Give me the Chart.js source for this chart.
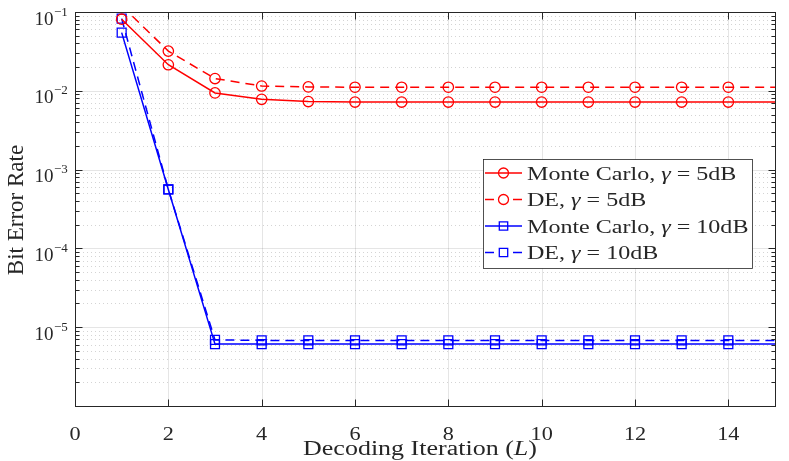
<!DOCTYPE html>
<html lang="en">
<head>
    <meta charset="UTF-8">
    <title>Bit Error Rate vs Decoding Iteration</title>
    <script src="https://cdn.jsdelivr.net/npm/chart.js"></script>
    <style>
        body {
            margin: 0;
            background: #ffffff;
        }
        .chart-box {
            width: 789px;
            height: 461px;
            position: relative;
        }
    </style>
</head>
<body>
    <div class="chart-box">
        <canvas id="ber-chart"></canvas>
    </div>

    <script>
        // Data
        const iterations = [1, 2, 3, 4, 5, 6, 7, 8, 9, 10, 11, 12, 13, 14, 15, 16];
        const mc5 = [0.081, 0.0214, 0.0094, 0.0078, 0.0073, 0.0072, 0.0072, 0.0072, 0.0072, 0.0072, 0.0072, 0.0072, 0.0072, 0.0072, 0.0072, 0.0072];
        const de5 = [0.12, 0.0319, 0.0143, 0.0115, 0.0112, 0.0111, 0.0111, 0.0111, 0.0111, 0.0111, 0.0111, 0.0111, 0.0111, 0.0111, 0.0111, 0.0111];
        const mc10 = [0.0547, 5.6e-4, 6.1e-6, 6.1e-6, 6.1e-6, 6.1e-6, 6.1e-6, 6.1e-6, 6.1e-6, 6.1e-6, 6.1e-6, 6.1e-6, 6.1e-6, 6.1e-6, 6.1e-6, 6.1e-6];
        const de10 = [0.0824, 5.6e-4, 6.9e-6, 6.8e-6, 6.8e-6, 6.8e-6, 6.8e-6, 6.8e-6, 6.8e-6, 6.8e-6, 6.8e-6, 6.8e-6, 6.8e-6, 6.8e-6, 6.8e-6, 6.8e-6];

        const xTicks = [0, 2, 4, 6, 8, 10, 12, 14];
        const yExps = [-6, -5, -4, -3, -2, -1];
        const yLabelExps = [-1, -2, -3, -4, -5];
        const legendLabels = [
            ['Monte Carlo, ', 'γ', ' = 5dB'],
            ['DE, ', 'γ', ' = 5dB'],
            ['Monte Carlo, ', 'γ', ' = 10dB'],
            ['DE, ', 'γ', ' = 10dB']
        ];

        const X_MIN = 0, X_MAX = 15, Y_MIN = 1e-6, Y_MAX = 1e-1;
        const AXIS = '#262626';
        const FONT = '"Liberation Serif", "Times New Roman", serif';
        const RED = '#ff0000', BLUE = '#0000ff';

        function pts(ys) {
            return iterations.map((x, i) => ({ x: x, y: ys[i] }));
        }

        // hide markers that fall outside the axes limits
        function markerSize(r) {
            return ctx => {
                const p = ctx.raw;
                if (!p || p.x >= X_MAX || p.y > Y_MAX) return 0;
                return r;
            };
        }

        function series(label, ys, color, dashed, style) {
            return {
                label: label,
                data: pts(ys),
                borderColor: color,
                borderWidth: 1.5,
                borderDash: dashed ? [9, 6] : [],
                pointStyle: style,
                pointRadius: markerSize(style === 'rect' ? 6.3 : 5.2),
                pointBorderWidth: 1.3,
                pointBorderColor: color,
                pointBackgroundColor: 'rgba(0,0,0,0)',
                fill: false,
                tension: 0,
                clip: 0
            };
        }

        // draw text made of plain/italic pieces, stretched horizontally by sx
        function drawParts(ctx, parts, x, y, size, sx, align) {
            const fonts = parts.map((p, i) => (i === 1 && parts.length === 3 && p.length === 1 ? 'italic ' : '') + size + 'px ' + FONT);
            let w = 0;
            const widths = parts.map((p, i) => {
                ctx.font = fonts[i];
                const m = ctx.measureText(p).width * sx;
                w += m;
                return m;
            });
            let cx = x;
            if (align === 'center') cx = x - w / 2;
            if (align === 'right') cx = x - w;
            parts.forEach((p, i) => {
                ctx.save();
                ctx.font = fonts[i];
                ctx.translate(cx, y);
                ctx.scale(sx, 1);
                ctx.textAlign = 'left';
                ctx.textBaseline = 'alphabetic';
                ctx.fillText(p, 0, 0);
                ctx.restore();
                cx += widths[i];
            });
        }

        function hline(ctx, x1, x2, y) {
            ctx.beginPath();
            ctx.moveTo(x1, y);
            ctx.lineTo(x2, y);
            ctx.stroke();
        }

        function vline(ctx, x, y1, y2) {
            ctx.beginPath();
            ctx.moveTo(x, y1);
            ctx.lineTo(x, y2);
            ctx.stroke();
        }

        const frame = {
            id: 'frame',
            beforeDatasetsDraw(chart) {
                const { ctx, chartArea: a, scales: { x, y } } = chart;
                ctx.save();
                ctx.lineWidth = 1;

                // minor grid (dotted)
                ctx.strokeStyle = 'rgba(38,38,38,0.2)';
                ctx.setLineDash([1, 3]);
                yExps.forEach(e => {
                    if (e === -1) return;
                    for (let m = 2; m <= 9; m++) {
                        const py = Math.round(y.getPixelForValue(m * Math.pow(10, e))) + 0.5;
                        hline(ctx, a.left, a.right, py);
                    }
                });

                // major grid
                ctx.setLineDash([]);
                ctx.strokeStyle = 'rgba(38,38,38,0.12)';
                xTicks.forEach(v => {
                    if (v === X_MIN) return;
                    const px = Math.round(x.getPixelForValue(v)) + 0.5;
                    vline(ctx, px, a.top, a.bottom);
                });
                yExps.forEach(e => {
                    const py = Math.round(y.getPixelForValue(Math.pow(10, e))) + 0.5;
                    hline(ctx, a.left, a.right, py);
                });
                ctx.restore();
            },
            afterDatasetsDraw(chart) {
                const { ctx, chartArea: a, scales: { x, y } } = chart;
                const L = Math.round(a.left) + 0.5, R = Math.round(a.right) + 0.5;
                const T = Math.round(a.top) + 0.5, B = Math.round(a.bottom) + 0.5;
                ctx.save();
                ctx.strokeStyle = AXIS;
                ctx.fillStyle = AXIS;
                ctx.lineWidth = 1;

                // box
                ctx.strokeRect(L, T, R - L, B - T);

                // x ticks, inward on bottom and top
                xTicks.forEach(v => {
                    const px = Math.round(x.getPixelForValue(v)) + 0.5;
                    vline(ctx, px, B, B - 7);
                    vline(ctx, px, T, T + 7);
                });

                // y ticks, inward on left and right
                yExps.forEach(e => {
                    for (let m = 1; m <= 9; m++) {
                        const v = m * Math.pow(10, e);
                        if (v > Y_MAX * 1.0001) break;
                        const py = Math.round(y.getPixelForValue(v)) + 0.5;
                        const len = m === 1 ? 7 : 4;
                        hline(ctx, L, L + len, py);
                        hline(ctx, R, R - len, py);
                    }
                });

                // x tick labels
                xTicks.forEach(v => {
                    drawParts(ctx, [String(v)], x.getPixelForValue(v), 440, 18.5, 1.2, 'center');
                });

                // y tick labels 10^k
                yLabelExps.forEach(e => {
                    const py = y.getPixelForValue(Math.pow(10, e));
                    drawParts(ctx, ['10'], 53.5, py + 12.5, 19, 1.0, 'right');
                    drawParts(ctx, ['\u2212' + Math.abs(e)], 54, py + 3.5, 13, 1.0, 'left');
                });

                // axis titles
                drawParts(ctx, ['Decoding Iteration (', 'L', ')'], 420, 455, 20, 1.3, 'center');
                ctx.save();
                ctx.translate(23, 210);
                ctx.rotate(-Math.PI / 2);
                drawParts(ctx, ['Bit Error Rate'], 0, 0, 23, 1.0, 'center');
                ctx.restore();

                // legend
                const bx = 483.5, by = 159.5, bw = 269, bh = 109;
                ctx.fillStyle = '#ffffff';
                ctx.fillRect(bx, by, bw, bh);
                ctx.strokeStyle = AXIS;
                ctx.lineWidth = 0.8;
                ctx.strokeRect(bx, by, bw, bh);
                chart.data.datasets.forEach((ds, i) => {
                    const ry = 173 + i * 26.5;
                    const dashed = ds.borderDash.length > 0;
                    ctx.strokeStyle = ds.borderColor;
                    ctx.lineWidth = 1.5;
                    if (dashed) {
                        hline(ctx, 485, 494, ry);
                        hline(ctx, 513, 522, ry);
                    } else {
                        hline(ctx, 485, 522, ry);
                    }
                    ctx.lineWidth = 1.3;
                    ctx.beginPath();
                    if (ds.pointStyle === 'rect') {
                        ctx.rect(503.5 - 4.2, ry - 4.2, 8.4, 8.4);
                    } else {
                        ctx.arc(503.5, ry, 5, 0, Math.PI * 2);
                    }
                    ctx.stroke();
                    ctx.fillStyle = AXIS;
                    drawParts(ctx, legendLabels[i], 527, ry + 6.5, 18.5, 1.3, 'left');
                });
                ctx.restore();
            }
        };

        const berChart = new Chart(
            document.getElementById('ber-chart'),
            {
                type: 'line',
                data: {
                    datasets: [
                        series('Monte Carlo, γ = 5dB', mc5, RED, false, 'circle'),
                        series('DE, γ = 5dB', de5, RED, true, 'circle'),
                        series('Monte Carlo, γ = 10dB', mc10, BLUE, false, 'rect'),
                        series('DE, γ = 10dB', de10, BLUE, true, 'rect')
                    ]
                },
                options: {
                    responsive: true,
                    maintainAspectRatio: false,
                    animation: false,
                    layout: { padding: { top: 12, right: 14, left: 0, bottom: 0 } },
                    plugins: {
                        legend: { display: false },
                        tooltip: { enabled: false }
                    },
                    scales: {
                        x: {
                            type: 'linear',
                            min: X_MIN,
                            max: X_MAX,
                            ticks: { display: false },
                            grid: { display: false },
                            border: { display: false },
                            afterFit(s) { s.height = 55; }
                        },
                        y: {
                            type: 'logarithmic',
                            min: Y_MIN,
                            max: Y_MAX,
                            ticks: { display: false },
                            grid: { display: false },
                            border: { display: false },
                            afterFit(s) { s.width = 75; }
                        }
                    }
                },
                plugins: [frame]
            }
        );
    </script>
</body>
</html>
